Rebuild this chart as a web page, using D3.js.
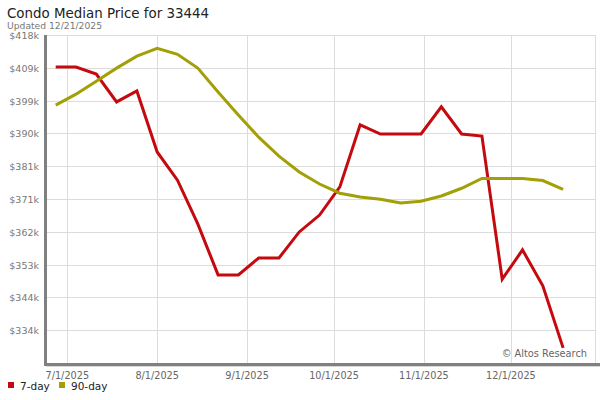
<!DOCTYPE html>
<html>
<head>
<meta charset="utf-8">
<script src="https://cdn.jsdelivr.net/npm/d3@7"></script>
<style>
  body { margin: 0; background: #fff; }
  svg { font-family: "DejaVu Sans", Verdana, sans-serif; }
</style>
</head>
<body>
<script>
// weekly points, values in $k
const dates = ["2025-06-27","2025-07-04","2025-07-11","2025-07-18","2025-07-25","2025-08-01",
  "2025-08-08","2025-08-15","2025-08-22","2025-08-29","2025-09-05","2025-09-12","2025-09-19",
  "2025-09-26","2025-10-03","2025-10-10","2025-10-17","2025-10-24","2025-10-31","2025-11-07",
  "2025-11-14","2025-11-21","2025-11-28","2025-12-05","2025-12-12","2025-12-19"];
const sevenDay = [408.9, 408.9, 406.9, 399.0, 402.1, 384.8, 376.8, 364.4, 349.9, 349.9, 354.7, 354.7,
  362.1, 366.9, 374.9, 392.5, 389.9, 389.9, 389.9, 397.6, 389.9, 389.3, 348.7, 357.0, 346.8, 329.2];
const ninetyDay = [398.1, 401.2, 404.9, 408.6, 412.0, 414.2, 412.5, 408.6, 401.8, 395.3, 389.0, 383.6,
  379.1, 375.7, 373.1, 372.0, 371.4, 370.3, 370.8, 372.3, 374.5, 377.3, 377.3, 377.3, 376.7, 374.2];
const yTicks = [418.0, 408.7, 399.4, 390.1, 380.8, 371.45, 362.1, 352.8, 343.5, 334.2];
const xTicks = ["2025-07-01","2025-08-01","2025-09-01","2025-10-01","2025-11-01","2025-12-01"];
const series = [
  { name: "7-day", values: sevenDay, color: "#c40a0f" },
  { name: "90-day", values: ninetyDay, color: "#a39f07" }
];

const W = 600, H = 400;
const m = { left: 47, right: 595, top: 35, bottom: 363 };
const parse = d3.timeParse("%Y-%m-%d");

const svg = d3.select("body").append("svg").attr("width", W).attr("height", H);

const x = d3.scaleTime()
  .domain([parse("2025-06-24"), parse("2025-12-30")])
  .range([m.left, m.right]);
const y = d3.scaleLinear().domain([324.9, 418.0]).range([m.bottom, m.top]);

// title
svg.append("text").attr("x", 7).attr("y", 18).attr("font-size", 13.4).attr("fill", "#222")
  .text("Condo Median Price for 33444");
svg.append("text").attr("x", 7).attr("y", 29).attr("font-size", 9.2).attr("fill", "#777")
  .text("Updated 12/21/2025");

// grid
const grid = svg.append("g").attr("stroke", "#dcdcdc").attr("stroke-width", 1);
grid.selectAll(".h").data(yTicks).enter().append("line")
  .attr("x1", m.left).attr("x2", m.right)
  .attr("y1", d => Math.round(y(d)) + 0.5).attr("y2", d => Math.round(y(d)) + 0.5);
grid.selectAll(".v").data(xTicks).enter().append("line")
  .attr("x1", d => Math.round(x(parse(d))) + 0.5).attr("x2", d => Math.round(x(parse(d))) + 0.5)
  .attr("y1", m.top).attr("y2", m.bottom);
grid.append("line").attr("x1", m.right + 0.5).attr("x2", m.right + 0.5)
  .attr("y1", m.top).attr("y2", m.bottom);

// y labels
svg.append("g").selectAll("text").data(yTicks).enter().append("text")
  .attr("x", 39).attr("y", d => y(d) + 4)
  .attr("text-anchor", "end").attr("font-size", 9.5).attr("fill", "#777")
  .text(d => "$" + Math.round(d) + "k");

// x labels
svg.append("g").selectAll("text").data(xTicks).enter().append("text")
  .attr("x", d => x(parse(d))).attr("y", 379)
  .attr("text-anchor", "middle").attr("font-size", 9.7).attr("fill", "#666")
  .text(d => d3.timeFormat("%-m/%-d/%Y")(parse(d)));

// axes bars
svg.append("rect").attr("x", 46).attr("y", m.bottom + 1).attr("width", W - 46).attr("height", 3).attr("fill", "#d8d8d8");
svg.append("rect").attr("x", 44).attr("y", m.bottom).attr("width", W - 44).attr("height", 3).attr("fill", "#808080");
svg.append("rect").attr("x", 44).attr("y", m.top).attr("width", 3).attr("height", m.bottom - m.top + 3).attr("fill", "#808080");

// lines
const line = d3.line().x((d, i) => x(parse(dates[i]))).y(d => y(d));
svg.selectAll(".series").data(series).enter().append("path")
  .attr("fill", "none").attr("stroke", d => d.color).attr("stroke-width", 3)
  .attr("stroke-linejoin", "miter")
  .attr("d", d => line(d.values));

// watermark
svg.append("text").attr("x", 587).attr("y", 357).attr("text-anchor", "end")
  .attr("font-size", 9.8).attr("fill", "#666").text("\u00a9 Altos Research");

// legend
const leg = svg.append("g").attr("font-size", 10.5).attr("fill", "#222");
const legX = [8, 59];
series.forEach((s, i) => {
  leg.append("rect").attr("x", legX[i]).attr("y", 382).attr("width", 6).attr("height", 6).attr("fill", s.color);
  leg.append("text").attr("x", legX[i] + 12).attr("y", 390).text(s.name);
});
</script>
</body>
</html>
